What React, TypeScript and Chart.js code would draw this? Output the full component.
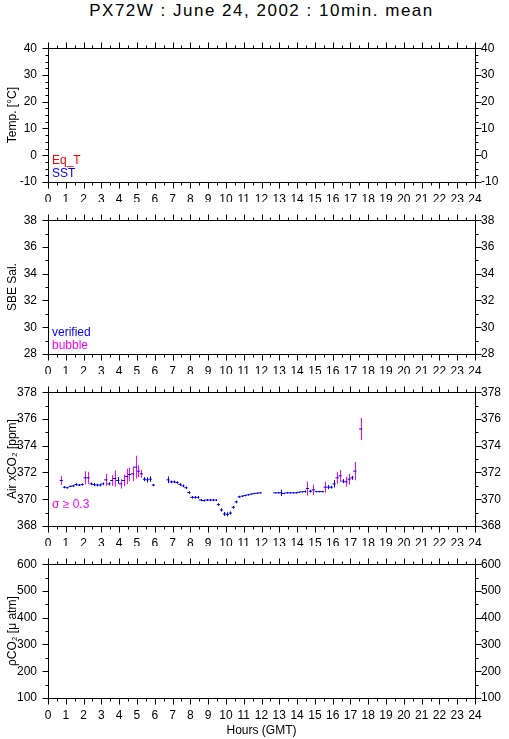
import React, { useEffect, useRef } from 'react';
import { Chart, registerables } from 'chart.js';

Chart.register(...registerables);

const FONT = "'Liberation Sans', Arial, Helvetica, sans-serif";
Chart.defaults.font.family = FONT;
Chart.defaults.font.size = 12;
Chart.defaults.color = '#000';

const chartTitle = 'PX72W : June 24, 2002 : 10min. mean';
const xAxisTitle = 'Hours (GMT)';
const hourMin = 0;
const hourMax = 24;
const hourStep = 1;
const hourMinorStep = 0.5;

const BLUE = '#0000ff';
const RED = '#ff0000';
const MAGENTA = '#ff00ff';

// Air xCO2 10-min means (hours GMT), values [ppm] and standard deviation
const co2Hours = [
  0.75, 0.92, 1.08, 1.25, 1.42, 1.58, 1.75, 1.92, 2.08, 2.25, 2.42, 2.58, 2.75, 2.92, 3.08, 3.25,
  3.42, 3.58, 3.75, 3.92, 4.08, 4.25, 4.42, 4.58, 4.75, 4.92, 5.08, 5.25, 5.42, 5.58, 5.75, 5.92,
  6.75, 6.92, 7.08, 7.25, 7.42, 7.58, 7.75, 7.92, 8.08, 8.25, 8.42, 8.58, 8.75, 8.92, 9.08, 9.25,
  9.42, 9.58, 9.75, 9.92, 10.08, 10.25, 10.42, 10.58, 10.75, 10.92, 11.08, 11.25, 11.42, 11.58, 11.75, 11.92,
  12.75, 12.92, 13.08, 13.25, 13.42, 13.58, 13.75, 13.92, 14.08, 14.25, 14.42, 14.58, 14.75, 14.92, 15.08,
  15.25, 15.42, 15.58, 15.75, 15.92, 16.08, 16.25, 16.42, 16.58, 16.75, 16.92, 17.08, 17.25, 17.58,
];
const co2Values = [
  371.4, 370.9, 370.86, 370.96, 371.0, 371.1, 371.06, 371.1, 371.6, 371.6, 371.15, 371.1, 371.06, 371.06, 371.15, 371.45,
  371.15, 371.4, 371.55, 371.4, 371.15, 371.4, 371.7, 371.85, 371.9, 372.4, 372.1, 371.9, 371.5, 371.45, 371.5, 371.06,
  371.45, 371.3, 371.3, 371.25, 371.1, 371.0, 370.86, 370.5, 370.14, 370.14, 370.14, 369.94, 369.9, 369.94, 369.94, 369.94,
  369.94, 369.6, 369.2, 368.9, 368.87, 368.97, 369.4, 369.8, 370.18, 370.23, 370.28, 370.33, 370.38, 370.43, 370.45, 370.48,
  370.48, 370.48, 370.48, 370.43, 370.48, 370.48, 370.48, 370.48, 370.52, 370.55, 370.57, 370.8, 370.6, 370.7, 370.57,
  370.57, 370.57, 370.9, 370.9, 370.9, 371.15, 371.6, 371.75, 371.35, 371.3, 371.5, 371.6, 372.1, 375.25,
];
const co2Sigma = [
  0.34, 0.08, 0.06, 0.06, 0.08, 0.1, 0.08, 0.08, 0.49, 0.45, 0.1, 0.12, 0.1, 0.1, 0.1, 0.45,
  0.12, 0.4, 0.6, 0.25, 0.35, 0.44, 0.58, 0.5, 0.55, 0.85, 0.45, 0.3, 0.15, 0.2, 0.2, 0.08,
  0.25, 0.1, 0.1, 0.1, 0.1, 0.1, 0.1, 0.1, 0.1, 0.1, 0.1, 0.08, 0.08, 0.08, 0.08, 0.08,
  0.08, 0.1, 0.12, 0.15, 0.15, 0.12, 0.1, 0.1, 0.08, 0.06, 0.06, 0.06, 0.05, 0.05, 0.05, 0.05,
  0.05, 0.05, 0.24, 0.05, 0.05, 0.05, 0.05, 0.05, 0.05, 0.05, 0.08, 0.53, 0.1, 0.39, 0.05,
  0.05, 0.05, 0.41, 0.15, 0.1, 0.28, 0.44, 0.44, 0.15, 0.36, 0.41, 0.15, 0.68, 0.83,
];
const sigmaThreshold = 0.3;

const panels = [
  { key: 'temp', label: 'Temp. [°C]', min: -10, max: 40, step: 10, minor: 2.5,
    notes: [{ text: 'Eq_T', color: RED }, { text: 'SST', color: BLUE }] },
  { key: 'sal', label: 'SBE Sal.', min: 28, max: 38, step: 2, minor: 1,
    notes: [{ text: 'verified', color: BLUE }, { text: 'bubble', color: MAGENTA }] },
  { key: 'co2', label: 'Air xCO₂ [ppm]', min: 368, max: 378, step: 2, minor: 1,
    notes: [{ text: 'σ ≥ 0.3', color: MAGENTA }] },
  { key: 'pco2', label: 'ρCO₂ [μ atm]', min: 100, max: 600, step: 100, minor: 50,
    notes: [] },
];

const PANEL_TOP = 44;
const PANEL_PITCH = 172;
const PAD_TOP = 14;
const AREA_H = 138;
const CANVAS_W = 509;
const LAST_H = 739 - (PANEL_TOP - PAD_TOP + PANEL_PITCH * 3);

function isMajor(v: number, step: number) {
  const r = v / step;
  return Math.abs(r - Math.round(r)) < 1e-6;
}

function framePlugin(p: any) {
  return {
    id: 'frameTicks',
    afterDraw(chart: any) {
      const { ctx, chartArea: a, scales } = chart;
      const xs = scales.x;
      const ys = scales.y;
      const L = Math.round(a.left) + 0.5;
      const R = Math.round(a.right) + 0.5;
      const T = Math.round(a.top) + 0.5;
      const B = Math.round(a.bottom) + 0.5;
      ctx.save();
      ctx.strokeStyle = '#000';
      ctx.lineWidth = 1;
      ctx.beginPath();
      ctx.rect(L, T, R - L, B - T);
      const nx = Math.round((hourMax - hourMin) / hourMinorStep);
      for (let k = 0; k <= nx; k++) {
        const v = hourMin + k * hourMinorStep;
        const len = isMajor(v, hourStep) ? 6 : 3;
        const px = Math.round(xs.getPixelForValue(v)) + 0.5;
        ctx.moveTo(px, T);
        ctx.lineTo(px, T - len);
        ctx.moveTo(px, B);
        ctx.lineTo(px, B + len);
      }
      const ny = Math.round((p.max - p.min) / p.minor);
      for (let k = 0; k <= ny; k++) {
        const v = p.min + k * p.minor;
        const len = isMajor(v - p.min, p.step) ? 6 : 3;
        const py = Math.round(ys.getPixelForValue(v)) + 0.5;
        ctx.moveTo(L, py);
        ctx.lineTo(L - len, py);
        ctx.moveTo(R, py);
        ctx.lineTo(R + len, py);
      }
      ctx.stroke();
      ctx.font = `12px ${FONT}`;
      ctx.textAlign = 'left';
      ctx.textBaseline = 'alphabetic';
      p.notes.forEach((n: any, i: number) => {
        ctx.fillStyle = n.color;
        ctx.fillText(n.text, a.left + 4, a.bottom - 18 + i * 13);
      });
      ctx.restore();
    },
  };
}

const errorBarPlugin = {
  id: 'errorBars',
  beforeDatasetsDraw(chart: any) {
    const meta = chart.getDatasetMeta(0);
    if (!meta || !meta.data || !meta.data.length) return;
    const ys = chart.scales.y;
    const ctx = chart.ctx;
    ctx.save();
    ctx.lineWidth = 1;
    meta.data.forEach((pt: any, i: number) => {
      const s = co2Sigma[i];
      const v = co2Values[i];
      const px = Math.round(pt.x) + 0.5;
      ctx.strokeStyle = s >= sigmaThreshold ? MAGENTA : BLUE;
      ctx.beginPath();
      ctx.moveTo(px, ys.getPixelForValue(v + s));
      ctx.lineTo(px, ys.getPixelForValue(v - s));
      ctx.stroke();
    });
    ctx.restore();
  },
};

function makeConfig(p: any, isLast: boolean, canvasH: number): any {
  const xAxisH = canvasH - PAD_TOP - AREA_H;
  const datasets =
    p.key === 'co2'
      ? [
          {
            data: co2Hours.map((h, i) => ({ x: h, y: co2Values[i] })),
            pointStyle: 'line',
            pointRadius: 1.6,
            pointBorderColor: BLUE,
            pointBackgroundColor: BLUE,
            pointBorderWidth: 1,
            showLine: false,
          },
        ]
      : [];
  const yCommon = {
    type: 'linear',
    min: p.min,
    max: p.max,
    grid: { display: false, drawTicks: false },
    border: { display: false },
  };
  return {
    type: 'scatter',
    data: { datasets },
    options: {
      responsive: false,
      animation: false,
      events: [],
      layout: { padding: { top: PAD_TOP, left: 0, right: 0, bottom: 0 } },
      plugins: { legend: { display: false }, tooltip: { enabled: false }, title: { display: false } },
      scales: {
        x: {
          type: 'linear',
          position: 'bottom',
          min: hourMin,
          max: hourMax,
          grid: { display: false, drawTicks: false },
          border: { display: false },
          ticks: { stepSize: hourStep, autoSkip: false, maxRotation: 0, minRotation: 0, padding: 10.5, maxTicksLimit: 40, color: '#000', font: { size: 12 } },
          title: { display: isLast, text: xAxisTitle, color: '#000', font: { size: 12 }, padding: { top: 0, bottom: 1.5 } },
          afterFit: (s: any) => { s.height = xAxisH; },
        },
        y: {
          ...yCommon,
          position: 'left',
          ticks: { stepSize: p.step, padding: 11, color: '#000', font: { size: 12 } },
          title: { display: true, text: p.label, color: '#000', font: { size: 12 }, padding: { top: 5.5, bottom: 0 } },
          afterFit: (s: any) => { s.width = 48; },
        },
        y2: {
          ...yCommon,
          position: 'right',
          ticks: { stepSize: p.step, padding: 6, color: '#000', font: { size: 12 } },
          afterFit: (s: any) => { s.width = CANVAS_W - 475; },
        },
      },
    },
    plugins: p.key === 'co2' ? [errorBarPlugin, framePlugin(p)] : [framePlugin(p)],
  };
}

export default function App() {
  const r0 = useRef<HTMLCanvasElement>(null);
  const r1 = useRef<HTMLCanvasElement>(null);
  const r2 = useRef<HTMLCanvasElement>(null);
  const r3 = useRef<HTMLCanvasElement>(null);
  const refs = [r0, r1, r2, r3];
  const heights = panels.map((_, i) => (i === panels.length - 1 ? LAST_H : PANEL_PITCH));

  useEffect(() => {
    const charts = panels.map((p, i) =>
      new Chart(refs[i].current as HTMLCanvasElement, makeConfig(p, i === panels.length - 1, heights[i]))
    );
    return () => charts.forEach((c) => c.destroy());
  }, []);

  return (
    <div style={{ position: 'absolute', left: 0, top: 0, width: 509, height: 739, background: '#fff', overflow: 'hidden' }}>
      <div
        style={{
          position: 'absolute', left: 0, top: 1, width: 523, textAlign: 'center',
          font: `17px ${FONT}`, lineHeight: '20px', letterSpacing: '1.5px', color: '#000', whiteSpace: 'nowrap',
        }}
      >
        {chartTitle}
      </div>
      {panels.map((p, i) => (
        <canvas
          key={p.key}
          ref={refs[i]}
          width={CANVAS_W}
          height={heights[i]}
          style={{ position: 'absolute', left: 0, top: PANEL_TOP - PAD_TOP + PANEL_PITCH * i, display: 'block', width: CANVAS_W, height: heights[i] }}
        />
      ))}
    </div>
  );
}
